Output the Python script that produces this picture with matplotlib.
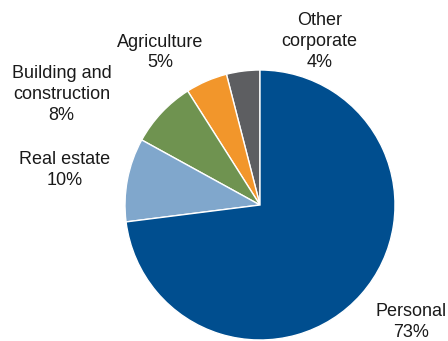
import matplotlib
matplotlib.use('Agg')
import matplotlib.pyplot as plt

# Loan book shares (%), counter-clockwise from the top
sectors = ['Other\ncorporate', 'Agriculture', 'Building and\nconstruction', 'Real estate', 'Personal']
shares = [4, 5, 8, 10, 73]
colors = ['#5d5e61', '#f2962b', '#6f9350', '#80a7cc', '#004e8f']

# label centres in pie-radius units
label_pos = [(0.44, 1.21), (-0.74, 1.13), (-1.47, 0.82), (-1.45, 0.26), (1.12, -0.87)]

plt.rcParams['font.family'] = ['Liberation Sans', 'DejaVu Sans']

fig = plt.figure(figsize=(4.48, 3.41), dpi=100)
r_px = 135
cx, cy = 260, 205
ax = fig.add_axes([(cx - r_px) / 448, (341 - cy - r_px) / 341, 2 * r_px / 448, 2 * r_px / 341])

ax.pie(shares, colors=colors, startangle=90, counterclock=True,
       wedgeprops=dict(edgecolor='white', linewidth=1))
ax.set_xlim(-1, 1)
ax.set_ylim(-1, 1)

for name, val, (x, y) in zip(sectors, shares, label_pos):
    ax.text(x, y, f"{name}\n{val}%", ha='center', va='center', fontsize=13,
            linespacing=1.3, color='#1a1a1a', clip_on=False)

fig.savefig('out.png', dpi=100)
